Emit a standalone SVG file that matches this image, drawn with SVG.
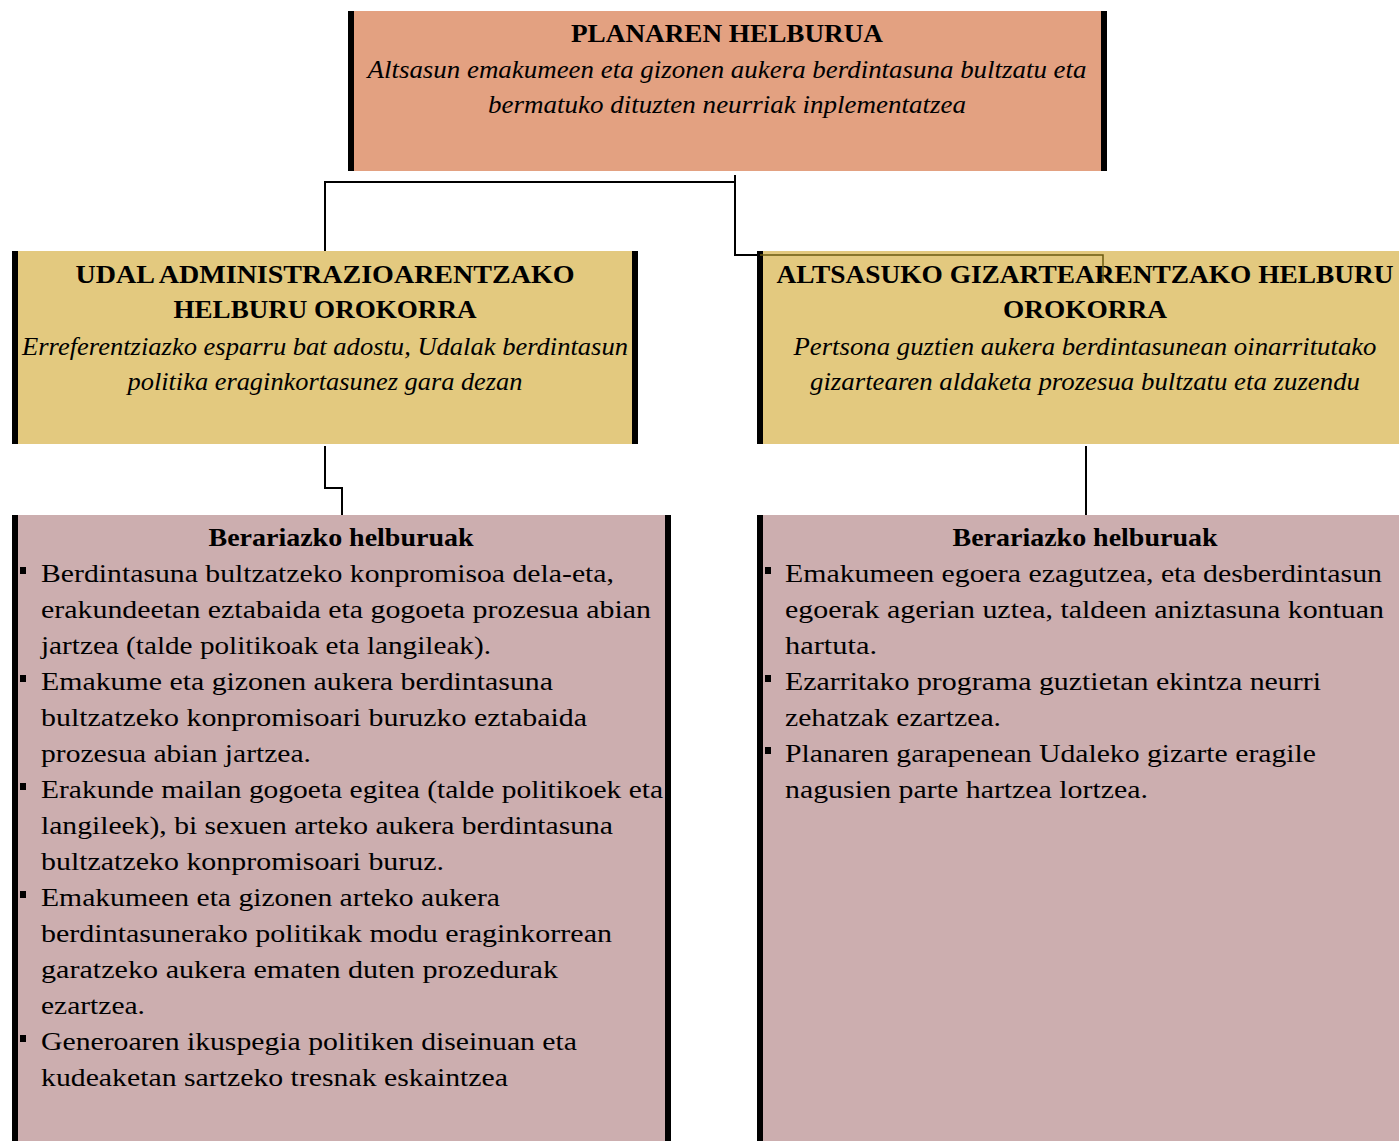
<svg xmlns="http://www.w3.org/2000/svg" width="1399" height="1141" viewBox="0 0 1399 1141">
<style>
.t{font-family:"Liberation Serif","DejaVu Serif",serif;font-size:26px;fill:#000}
.b{font-weight:bold}
.i{font-style:italic}
.c{text-anchor:middle}
.bar{fill:#000}
.ln{fill:none;stroke:#000;stroke-width:2}
</style>
<rect width="1399" height="1141" fill="#fff"/>
<g id="plan">
<rect x="348" y="11" width="759" height="160" fill="#E3A181"/>
<rect class="bar" x="348" y="11" width="6" height="160"/>
<rect class="bar" x="1101" y="11" width="6" height="160"/>
<text class="t b c" x="727" y="42" textLength="312" lengthAdjust="spacingAndGlyphs">PLANAREN HELBURUA</text>
<text class="t i c" x="727" y="78" textLength="719" lengthAdjust="spacingAndGlyphs">Altsasun emakumeen eta gizonen aukera berdintasuna bultzatu eta</text>
<text class="t i c" x="727" y="113" textLength="478" lengthAdjust="spacingAndGlyphs">bermatuko dituzten neurriak inplementatzea</text>
</g>
<g id="udal">
<rect x="12" y="251" width="626" height="193" fill="#E3C97F"/>
<rect class="bar" x="12" y="251" width="6" height="193"/>
<rect class="bar" x="632" y="251" width="6" height="193"/>
<text class="t b c" x="325" y="283" textLength="499" lengthAdjust="spacingAndGlyphs">UDAL ADMINISTRAZIOARENTZAKO</text>
<text class="t b c" x="325" y="318" textLength="303" lengthAdjust="spacingAndGlyphs">HELBURU OROKORRA</text>
<text class="t i c" x="325" y="355" textLength="606" lengthAdjust="spacingAndGlyphs">Erreferentziazko esparru bat adostu, Udalak berdintasun</text>
<text class="t i c" x="325" y="390" textLength="395" lengthAdjust="spacingAndGlyphs">politika eraginkortasunez gara dezan</text>
</g>
<g id="gizartea">
<rect x="757" y="251" width="642" height="193" fill="#E3C97F"/>
<rect class="bar" x="757" y="251" width="6" height="193"/>
<text class="t b c" x="1085" y="283" textLength="617" lengthAdjust="spacingAndGlyphs">ALTSASUKO GIZARTEARENTZAKO HELBURU</text>
<text class="t b c" x="1085" y="318" textLength="164" lengthAdjust="spacingAndGlyphs">OROKORRA</text>
<text class="t i c" x="1085" y="355" textLength="583" lengthAdjust="spacingAndGlyphs">Pertsona guztien aukera berdintasunean oinarritutako</text>
<text class="t i c" x="1085" y="390" textLength="550" lengthAdjust="spacingAndGlyphs">gizartearen aldaketa prozesua bultzatu eta zuzendu</text>
</g>
<g id="berariazko-udal">
<rect x="12" y="515" width="659" height="626" fill="#CCAEAF"/>
<rect class="bar" x="12" y="515" width="6" height="626"/>
<rect class="bar" x="665" y="515" width="6" height="626"/>
<text class="t b c" x="341" y="546" textLength="265" lengthAdjust="spacingAndGlyphs">Berariazko helburuak</text>
<rect class="bar" x="20" y="567" width="6" height="7"/>
<rect class="bar" x="20" y="675" width="6" height="7"/>
<rect class="bar" x="20" y="783" width="6" height="7"/>
<rect class="bar" x="20" y="891" width="6" height="7"/>
<rect class="bar" x="20" y="1035" width="6" height="7"/>
<text class="t" x="41" y="582" textLength="573" lengthAdjust="spacingAndGlyphs">Berdintasuna bultzatzeko konpromisoa dela-eta,</text>
<text class="t" x="41" y="618" textLength="610" lengthAdjust="spacingAndGlyphs">erakundeetan eztabaida eta gogoeta prozesua abian</text>
<text class="t" x="41" y="654" textLength="450" lengthAdjust="spacingAndGlyphs">jartzea (talde politikoak eta langileak).</text>
<text class="t" x="41" y="690" textLength="512" lengthAdjust="spacingAndGlyphs">Emakume eta gizonen aukera berdintasuna</text>
<text class="t" x="41" y="726" textLength="546" lengthAdjust="spacingAndGlyphs">bultzatzeko konpromisoari buruzko eztabaida</text>
<text class="t" x="41" y="762" textLength="270" lengthAdjust="spacingAndGlyphs">prozesua abian jartzea.</text>
<text class="t" x="41" y="798" textLength="622" lengthAdjust="spacingAndGlyphs">Erakunde mailan gogoeta egitea (talde politikoek eta</text>
<text class="t" x="41" y="834" textLength="572" lengthAdjust="spacingAndGlyphs">langileek), bi sexuen arteko aukera berdintasuna</text>
<text class="t" x="41" y="870" textLength="403" lengthAdjust="spacingAndGlyphs">bultzatzeko konpromisoari buruz.</text>
<text class="t" x="41" y="906" textLength="459" lengthAdjust="spacingAndGlyphs">Emakumeen eta gizonen arteko aukera</text>
<text class="t" x="41" y="942" textLength="571" lengthAdjust="spacingAndGlyphs">berdintasunerako politikak modu eraginkorrean</text>
<text class="t" x="41" y="978" textLength="517" lengthAdjust="spacingAndGlyphs">garatzeko aukera ematen duten prozedurak</text>
<text class="t" x="41" y="1014" textLength="104" lengthAdjust="spacingAndGlyphs">ezartzea.</text>
<text class="t" x="41" y="1050" textLength="536" lengthAdjust="spacingAndGlyphs">Generoaren ikuspegia politiken diseinuan eta</text>
<text class="t" x="41" y="1086" textLength="467" lengthAdjust="spacingAndGlyphs">kudeaketan sartzeko tresnak eskaintzea</text>
</g>
<g id="berariazko-gizartea">
<rect x="757" y="515" width="642" height="626" fill="#CCAEAF"/>
<rect class="bar" x="757" y="515" width="6" height="626"/>
<text class="t b c" x="1085" y="546" textLength="265" lengthAdjust="spacingAndGlyphs">Berariazko helburuak</text>
<rect class="bar" x="765" y="567" width="6" height="7"/>
<rect class="bar" x="765" y="675" width="6" height="7"/>
<rect class="bar" x="765" y="747" width="6" height="7"/>
<text class="t" x="785" y="582" textLength="597" lengthAdjust="spacingAndGlyphs">Emakumeen egoera ezagutzea, eta desberdintasun</text>
<text class="t" x="785" y="618" textLength="599" lengthAdjust="spacingAndGlyphs">egoerak agerian uztea, taldeen aniztasuna kontuan</text>
<text class="t" x="785" y="654" textLength="92" lengthAdjust="spacingAndGlyphs">hartuta.</text>
<text class="t" x="785" y="690" textLength="536" lengthAdjust="spacingAndGlyphs">Ezarritako programa guztietan ekintza neurri</text>
<text class="t" x="785" y="726" textLength="216" lengthAdjust="spacingAndGlyphs">zehatzak ezartzea.</text>
<text class="t" x="785" y="762" textLength="531" lengthAdjust="spacingAndGlyphs">Planaren garapenean Udaleko gizarte eragile</text>
<text class="t" x="785" y="798" textLength="363" lengthAdjust="spacingAndGlyphs">nagusien parte hartzea lortzea.</text>
</g>
<g id="connectors">
<polyline class="ln" points="735,175 735,182 325,182 325,251"/>
<polyline class="ln" points="735,182 735,255 760,255"/>
<polyline fill="none" stroke="#6b5a10" stroke-width="1.5" points="760,255 1103,255 1103,283"/>
<polyline class="ln" points="325,446 325,488 342,488 342,515"/>
<line class="ln" x1="1086" y1="446" x2="1086" y2="515"/>
</g>
</svg>
